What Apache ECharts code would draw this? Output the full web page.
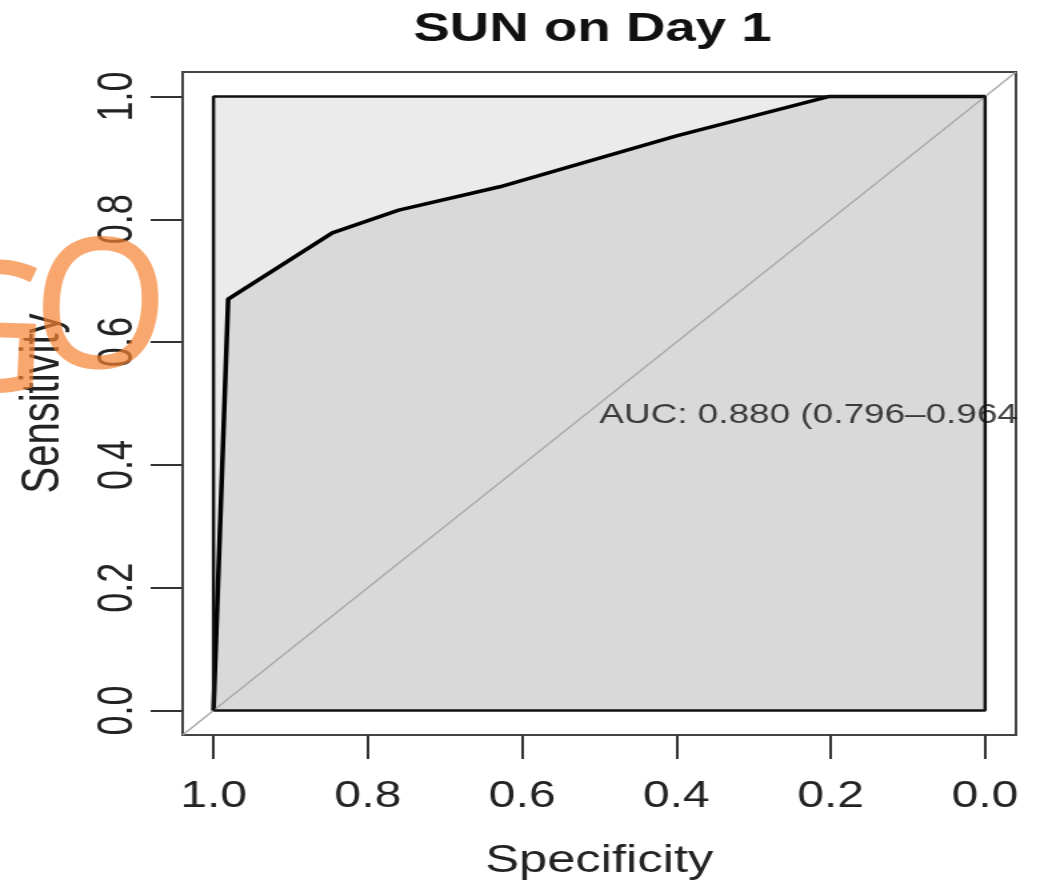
<!DOCTYPE html>
<html>
<head>
<meta charset="utf-8">
<title>SUN on Day 1</title>
<script src="https://cdn.jsdelivr.net/npm/echarts@6/dist/echarts.min.js"></script>
<style>
  html, body { margin: 0; padding: 0; background: #fff; overflow: hidden; }
  /* the original plot was stretched sideways, so the chart is drawn narrow and widened */
  #roc { width: 780px; height: 888px; transform: scaleX(1.33333); transform-origin: 0 0; }
</style>
</head>
<body>
<div id="roc"></div>
<script>
// ROC points
const specificity = [1.0, 0.981, 0.846, 0.76, 0.629, 0.4, 0.203, 0.0];
const sensitivity = [0.0, 0.67, 0.778, 0.815, 0.853, 0.936, 1.0, 1.0];
const tickValues = [0, 0.2, 0.4, 0.6, 0.8, 1.0];
const aucText = 'AUC: 0.880 (0.796\u20130.964)';
const aucPos = [0.5, 0.48];

const myChart = echarts.init(document.getElementById('roc'));
const font = '"Liberation Sans", Arial, Helvetica, sans-serif';
const markFont = '182px "Noto Sans", sans-serif';
const markColor = 'rgba(245,130,50,0.7)';

const rocData = specificity.map((s, i) => [s, sensitivity[i]]);
const frame = [[1, 0], [1, 1], [0, 1], [0, 0], [1, 0]];

const option = {
  animation: false,
  title: {
    text: 'SUN on Day 1',
    left: 310,
    top: 9,
    padding: 0,
    textStyle: { fontFamily: font, fontSize: 41, fontWeight: 'bold', color: '#111' }
  },
  grid: {
    left: 137, right: 18, top: 72, bottom: 153,
    show: true, borderColor: '#444', borderWidth: 2, backgroundColor: '#fff'
  },
  xAxis: {
    type: 'value', min: -0.04, max: 1.04, inverse: true,
    name: 'Specificity', nameLocation: 'middle', nameGap: 108,
    nameTextStyle: { fontFamily: font, fontSize: 38, color: '#222' },
    axisLine: { show: true, onZero: false, lineStyle: { color: '#444', width: 2 } },
    splitLine: { show: false },
    axisTick: { show: true, inside: false, customValues: tickValues, length: 24, lineStyle: { color: '#333', width: 2 } },
    axisLabel: {
      customValues: tickValues, margin: 44,
      formatter: v => v.toFixed(1),
      fontFamily: font, fontSize: 36, color: '#222'
    }
  },
  yAxis: {
    type: 'value', min: -0.04, max: 1.04,
    name: 'Sensitivity', nameLocation: 'middle', nameGap: 84, nameRotate: 90,
    nameTextStyle: { fontFamily: font, fontSize: 40, color: '#222' },
    axisLine: { show: true, onZero: false, lineStyle: { color: '#444', width: 2 } },
    splitLine: { show: false },
    axisTick: { show: true, inside: false, customValues: tickValues, length: 24, lineStyle: { color: '#333', width: 2 } },
    axisLabel: {
      customValues: tickValues, margin: 30, rotate: 90,
      formatter: v => v.toFixed(1),
      fontFamily: font, fontSize: 36, color: '#222'
    }
  },
  series: [
    {
      name: 'frame',
      type: 'line',
      data: frame,
      symbol: 'none',
      z: 5,
      lineStyle: { color: '#111', width: 2.5 },
      markArea: {
        silent: true,
        itemStyle: { color: '#ebebeb' },
        data: [[{ coord: [1, 0] }, { coord: [0, 1] }]]
      }
    },
    {
      name: 'roc',
      type: 'line',
      data: rocData,
      symbol: 'none',
      z: 4,
      lineStyle: { color: '#000', width: 3.5 },
      areaStyle: { color: '#d9d9d9', opacity: 1 }
    },
    {
      name: 'diagonal',
      type: 'line',
      data: [[1.04, -0.04], [-0.04, 1.04]],
      symbol: 'none',
      z: 4,
      lineStyle: { color: '#a8a8a8', width: 1.3 }
    },
    {
      name: 'auc',
      type: 'scatter',
      data: [aucPos],
      symbolSize: 0,
      z: 4.5,
      label: {
        show: true, position: 'right', distance: 0,
        formatter: aucText,
        fontFamily: font, fontSize: 27.7, color: '#111'
      }
    }
  ],
  graphic: [
    {
      // hide the text that runs out of the plot box
      type: 'rect', z: 50,
      shape: { x: 763.5, y: 60, width: 20, height: 680 },
      style: { fill: '#fff' }
    },
    // watermark, cut off at the left edge
    {
      type: 'text', z: 100,
      x: 75, y: 316, scaleX: 0.72, rotation: -0.04,
      style: { text: 'O', fill: markColor, font: markFont, align: 'center', verticalAlign: 'middle' }
    },
    {
      type: 'text', z: 100,
      x: 36, y: 341, scaleX: 0.72, rotation: -0.04,
      style: { text: 'G', fill: markColor, font: markFont, align: 'right', verticalAlign: 'middle' }
    }
  ]
};

myChart.setOption(option);
</script>
</body>
</html>
